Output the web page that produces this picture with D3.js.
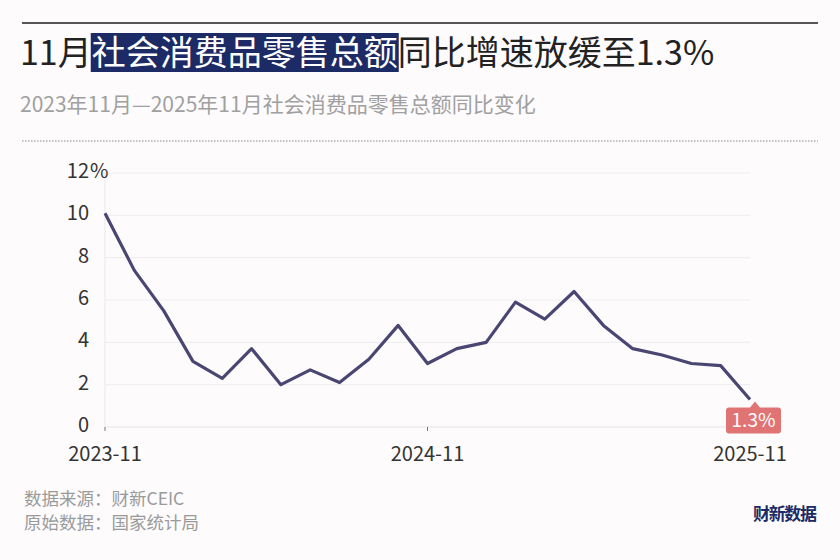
<!DOCTYPE html>
<html><head><meta charset="utf-8">
<script src="https://cdn.jsdelivr.net/npm/d3@7"></script>
<style>
body{margin:0;background:#fdfbfc;}
svg{display:block;}
text{font-family:"Noto Sans CJK SC","Noto Sans",sans-serif;}
</style></head>
<body>
<script>
const months = ["2023-11","2023-12","2024-01/02","2024-03","2024-04","2024-05","2024-06","2024-07","2024-08","2024-09","2024-10","2024-11","2024-12","2025-01/02","2025-03","2025-04","2025-05","2025-06","2025-07","2025-08","2025-09","2025-10","2025-11"];
const values = [10.1,7.4,5.5,3.1,2.3,3.7,2.0,2.7,2.1,3.2,4.8,3.0,3.7,4.0,5.9,5.1,6.4,4.8,3.7,3.4,3.0,2.9,1.3];
const xTickLabels = ["2023-11","2024-11","2025-11"];
const yTicks = [0,2,4,6,8,10,12];
const title = ["11月","社会消费品零售总额","同比增速放缓至1.3%"];
const subtitle = "2023年11月—2025年11月社会消费品零售总额同比变化";
const sources = ["数据来源：财新CEIC","原始数据：国家统计局"];

const W=840,H=560;
const svg=d3.select("body").append("svg").attr("width",W).attr("height",H);
svg.append("rect").attr("width",W).attr("height",H).attr("fill","#fdfbfc");

// top rule
svg.append("line").attr("x1",22).attr("x2",818).attr("y1",23).attr("y2",23).attr("stroke","#555").attr("stroke-width",2);

// title with highlight
const tg=svg.append("text").attr("x",20).attr("y",65).attr("font-size",34).attr("fill","#222");
tg.append("tspan").text(title[0]);
tg.append("tspan").attr("fill","#fff").text(title[1]);
tg.append("tspan").text(title[2]);
const t0=svg.append("text").attr("font-size",34).attr("x",-1000).text(title[0]);
const w0=t0.node().getComputedTextLength(); t0.remove();
const t1=svg.append("text").attr("font-size",34).attr("x",-1000).text(title[1]);
const w1=t1.node().getComputedTextLength(); t1.remove();
svg.insert("rect","text").attr("x",20+w0-1).attr("y",33).attr("width",w1+2).attr("height",39).attr("fill","#1c2a66");

svg.append("text").attr("x",20).attr("y",112).attr("font-size",21).attr("fill","#a0a0a0").text(subtitle);

svg.append("line").attr("x1",22).attr("x2",818).attr("y1",141).attr("y2",141).attr("stroke","#888").attr("stroke-width",1.2).attr("stroke-dasharray","1.5,1.5");

// scales
const x=d3.scalePoint().domain(months).range([105,750]);
const y=d3.scaleLinear().domain([0,12]).range([427,173]);

// grid
svg.append("g").selectAll("line").data(yTicks).join("line")
  .attr("x1",105).attr("x2",750).attr("y1",d=>y(d)).attr("y2",d=>y(d))
  .attr("stroke",d=>d===0?"#e6e3e6":"#f1eef1").attr("stroke-width",1.2);
svg.append("line").attr("x1",105).attr("x2",105).attr("y1",y(12)).attr("y2",y(0)).attr("stroke","#eeeaee").attr("stroke-width",1.2);

// y labels
svg.append("g").selectAll("text").data(yTicks).join("text")
  .attr("x",89).attr("y",d=>y(d)+5).attr("font-size",20).attr("fill","#333").attr("text-anchor","end")
  .text(d=>d);
svg.append("text").attr("x",90).attr("y",y(12)+5).attr("font-size",20).attr("fill","#333").text("%");

// x axis ticks & labels
svg.append("g").selectAll("line").data(xTickLabels).join("line")
  .attr("x1",d=>x(d)).attr("x2",d=>x(d)).attr("y1",y(0)).attr("y2",y(0)+4).attr("stroke","#777").attr("stroke-width",1);
svg.append("g").selectAll("text").data(xTickLabels).join("text")
  .attr("x",d=>x(d)).attr("y",461).attr("font-size",20).attr("fill","#333").attr("text-anchor","middle").text(d=>d);

// line
const line=d3.line().x((d,i)=>x(months[i])).y(d=>y(d));
svg.append("path").datum(values).attr("d",line).attr("fill","none").attr("stroke","#4a4672").attr("stroke-width",3.2).attr("stroke-linejoin","round");

// last value label
const lx=x(months[months.length-1]), ly=y(values[values.length-1]);
const bx=lx-24, by=ly+8, bw=55, bh=26;
svg.append("path").attr("d",`M${bx+3},${by} L${lx},${by} L${lx+5},${by-6} L${lx+10},${by} L${bx+bw-3},${by} Q${bx+bw},${by} ${bx+bw},${by+3} L${bx+bw},${by+bh-3} Q${bx+bw},${by+bh} ${bx+bw-3},${by+bh} L${bx+3},${by+bh} Q${bx},${by+bh} ${bx},${by+bh-3} L${bx},${by+3} Q${bx},${by} ${bx+3},${by} Z`)
  .attr("fill","#e07474");
svg.append("text").attr("x",bx+bw/2).attr("y",by+20).attr("font-size",19).attr("fill","#fff").attr("text-anchor","middle").text(values[values.length-1]+"%");

// footer
svg.append("g").selectAll("text").data(sources).join("text")
  .attr("x",24).attr("y",(d,i)=>505+i*24).attr("font-size",17.5).attr("fill","#9a9a9a").text(d=>d);
svg.append("text").attr("x",817).attr("y",520).attr("font-size",17).attr("font-weight","bold").attr("fill","#1c2a66").attr("text-anchor","end").attr("textLength",64).text("财新数据");
</script>
</body></html>
